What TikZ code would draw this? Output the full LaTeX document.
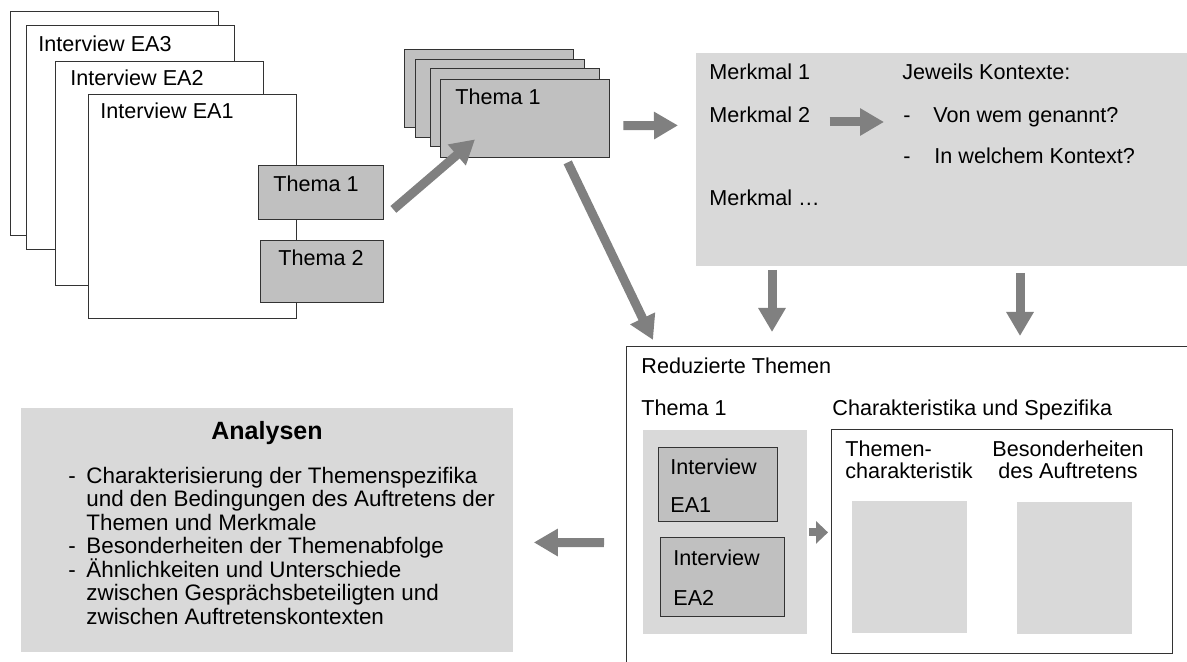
\documentclass[tikz,border=0pt]{standalone}
\usepackage{fontspec}
\setmainfont{Liberation Sans}
\usetikzlibrary{arrows.meta}
\definecolor{cardgrey}{HTML}{C0C0C0}
\definecolor{panelgrey}{HTML}{D9D9D9}
\definecolor{arrowgrey}{HTML}{808080}
\definecolor{linegrey}{HTML}{333333}

\begin{document}
\begin{tikzpicture}[x=0.5pt,y=-0.5pt,
  page/.style={draw=linegrey,line width=0.7pt,fill=white,anchor=north west,inner sep=0pt,minimum width=104pt,minimum height=112pt},
  card/.style={draw=linegrey,line width=0.7pt,fill=cardgrey,anchor=north west,inner sep=0pt},
  panel/.style={fill=panelgrey,anchor=north west,inner sep=0pt},
  frame/.style={draw=linegrey,line width=0.7pt,fill=white,anchor=north west,inner sep=0pt},
  txt/.style={inner sep=0pt,anchor=base west,font=\fontsize{10.8}{11}\selectfont},
  big arrow/.style={draw=arrowgrey,line width=4.5pt,-{Triangle[length=12pt,width=13pt]}},
  small arrow/.style={draw=arrowgrey,line width=4pt,-{Triangle[length=6pt,width=11pt]}}]

  \useasboundingbox (0,0) rectangle (1187,662);
  \clip (0,0) rectangle (1187,662);

  \node[page] (ea4) at (10,11) {};
  \node[page] (ea3) at (26,25) {};
  \node[page] (ea2) at (55,61) {};
  \node[page] (ea1) at (88,94) {};
  \node[txt] (lea3) at (38,52) {Interview EA3};
  \node[txt] (lea2) at (70,86) {Interview EA2};
  \node[txt] (lea1) at (100,119) {Interview EA1};

  \node[card,minimum width=62.5pt,minimum height=27pt] (th1) at (258,165) {};
  \node[card,minimum width=61.5pt,minimum height=31pt] (th2) at (260,240) {};
  \node[txt] (lth1) at (273,192) {Thema 1};
  \node[txt] (lth2) at (278,266) {Thema 2};

  \node[card,minimum width=84.5pt,minimum height=39pt] (st4) at (404,49) {};
  \node[card,minimum width=84.5pt,minimum height=39pt] (st3) at (415,59) {};
  \node[card,minimum width=84.5pt,minimum height=39pt] (st2) at (430,68) {};
  \node[card,minimum width=84.5pt,minimum height=39pt] (st1) at (440,79) {};
  \node[txt] (lst1) at (455,105) {Thema 1};

  \node[panel,minimum width=245.5pt,minimum height=106.5pt] (merk) at (696,53) {};
  \node[txt] (m1) at (709,80) {Merkmal 1};
  \node[txt] (m2) at (709,123) {Merkmal 2};
  \node[txt] (m3) at (709,206) {Merkmal …};
  \node[txt] (ktx) at (902,80) {Jeweils Kontexte:};
  \node[txt] (d1) at (903,123) {-};
  \node[txt] (k1) at (933,123) {Von wem genannt?};
  \node[txt] (d2) at (903,164) {-};
  \node[txt] (k2) at (934,164) {In welchem Kontext?};

  \node[frame,minimum width=300pt,minimum height=200pt] (reduced) at (626,346) {};
  \node[txt] (lred) at (641,373) {Reduzierte Themen};
  \node[txt] (lthr) at (641,415) {Thema 1};
  \node[txt] (lspec) at (832,415) {Charakteristika und Spezifika};
  \node[panel,minimum width=82pt,minimum height=102pt] (inner) at (643,430) {};
  \node[card,minimum width=59.5pt,minimum height=37pt] (iv1) at (658,447) {};
  \node[card,minimum width=62pt,minimum height=39.5pt] (iv2) at (660,537) {};
  \node[txt] (liv1) at (670,474) {Interview};
  \node[txt] (lea1b) at (670,512) {EA1};
  \node[txt] (liv2) at (673,565) {Interview};
  \node[txt] (lea2b) at (673,605) {EA2};
  \node[frame,minimum width=170.5pt,minimum height=112pt] (spec) at (831,429) {};
  \node[txt,align=left] (ltc) at (845,478) {Themen-\\charakteristik};
  \node[txt,anchor=base,align=center] (lbes) at (1068,478) {Besonderheiten\\des Auftretens};
  \node[panel,minimum width=57.5pt,minimum height=66pt] (tc) at (852,501) {};
  \node[panel,minimum width=57.5pt,minimum height=66pt] (bes) at (1017,502) {};

  \node[panel,minimum width=246pt,minimum height=122pt] (analysen) at (21,408) {};
  \node[txt,anchor=base,font=\fontsize{12.5}{14}\selectfont\bfseries] (lana) at (267,439) {Analysen};
  \node[txt,align=left,font=\fontsize{11.2}{11.75}\selectfont] (alist) at (68,624)
    {\makebox[9pt][l]{-}Charakterisierung der Themenspezifika\\
     \hspace*{9pt}und den Bedingungen des Auftretens der\\
     \hspace*{9pt}Themen und Merkmale\\
     \makebox[9pt][l]{-}Besonderheiten der Themenabfolge\\
     \makebox[9pt][l]{-}Ähnlichkeiten und Unterschiede\\
     \hspace*{9pt}zwischen Gesprächsbeteiligten und\\
     \hspace*{9pt}zwischen Auftretenskontexten};

  \draw[big arrow] ([shift={(9,-11)}]th1.south east) -- ([shift={(35,-19)}]st1.south west);
  \draw[big arrow] ([shift={(13,7)}]st1.east) -- ([shift={(-18,-34.5)}]merk.west);
  \draw[big arrow] ([shift={(42.5,4)}]st1.south) -- ([shift={(27,-6)}]reduced.north west);
  \draw[big arrow] ([shift={(19,-1)}]m2.base east) -- ([shift={(-19,-1)}]d1.base west);
  \draw[big arrow] ([shift={(76,3)}]merk.south west) -- ([shift={(146,-14)}]reduced.north west);
  \draw[big arrow] ([shift={(324,6)}]merk.south west) -- ([shift={(394,-10)}]reduced.north west);
  \draw[small arrow,shorten >=1.5pt] ([xshift=0.5pt]inner.east) -- (inner.east -| spec.west);
  \draw[big arrow] ([shift={(-22,-4)}]reduced.west) -- ([shift={(20,12)}]analysen.east);
\end{tikzpicture}
\end{document}
